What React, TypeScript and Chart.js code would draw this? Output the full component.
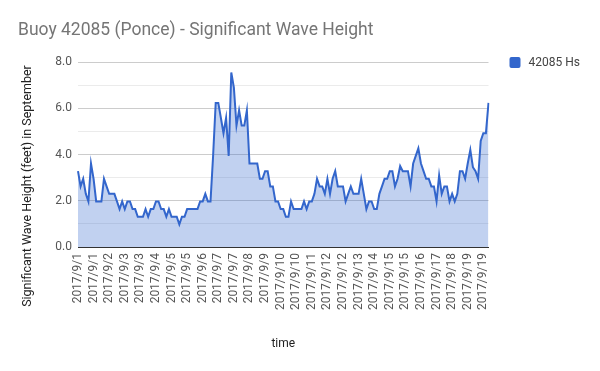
import React, { useEffect, useRef } from "react";
import { Chart, registerables } from "chart.js";

Chart.register(...registerables);

const chartTitle = "Buoy 42085 (Ponce) - Significant Wave Height";
const seriesName = "42085 Hs";
const yAxisTitle = "Significant Wave Height (feet) in September";
const xAxisTitle = "time";

const tickLabels = [
  "2017/9/1", "2017/9/1", "2017/9/2", "2017/9/3", "2017/9/3", "2017/9/4",
  "2017/9/5", "2017/9/5", "2017/9/6", "2017/9/7", "2017/9/7", "2017/9/8",
  "2017/9/9", "2017/9/10", "2017/9/10", "2017/9/11", "2017/9/12", "2017/9/12",
  "2017/9/13", "2017/9/14", "2017/9/15", "2017/9/15", "2017/9/16", "2017/9/17",
  "2017/9/18", "2017/9/19", "2017/9/19",
];

const pointsPerTick = 6;

const waveHeights = [
  3.28, 2.62, 2.95, 2.30, 1.97, 3.61, 2.95, 1.97, 1.97, 1.97,
  2.95, 2.62, 2.30, 2.30, 2.30, 1.97, 1.64, 1.97, 1.64, 1.97,
  1.97, 1.64, 1.64, 1.31, 1.31, 1.31, 1.64, 1.31, 1.64, 1.64,
  1.97, 1.97, 1.64, 1.64, 1.31, 1.64, 1.31, 1.31, 1.31, 0.98,
  1.31, 1.31, 1.64, 1.64, 1.64, 1.64, 1.64, 1.97, 1.97, 2.30,
  1.97, 1.97, 3.94, 6.23, 6.23, 5.58, 4.92, 5.58, 3.94, 7.55,
  6.89, 5.25, 5.91, 5.25, 5.25, 5.91, 3.61, 3.61, 3.61, 3.61,
  2.95, 2.95, 3.28, 3.28, 2.62, 2.62, 1.97, 1.97, 1.64, 1.64,
  1.31, 1.31, 1.97, 1.64, 1.64, 1.64, 1.64, 1.97, 1.64, 1.97,
  1.97, 2.30, 2.95, 2.62, 2.62, 2.30, 2.95, 2.30, 2.95, 3.28,
  2.62, 2.62, 2.62, 1.97, 2.30, 2.62, 2.30, 2.30, 2.30, 2.95,
  2.30, 1.64, 1.97, 1.97, 1.64, 1.64, 2.30, 2.62, 2.95, 2.95,
  3.28, 3.28, 2.62, 2.95, 3.50, 3.28, 3.28, 3.28, 2.62, 3.61,
  3.94, 4.27, 3.61, 3.28, 2.95, 2.95, 2.62, 2.62, 1.97, 3.10,
  2.30, 2.62, 2.62, 1.97, 2.30, 1.97, 2.30, 3.28, 3.28, 2.95,
  3.61, 4.20, 3.45, 3.28, 2.95, 4.59, 4.92, 4.92, 6.23,
];

const lineColor = "#3366cc";
const fillColor = "rgba(51,102,204,0.3)";
const fontFamily = "Roboto, 'Noto Sans', sans-serif";

const legendPlugin = {
  id: "sideLegend",
  afterDraw(chart: any) {
    const { ctx, chartArea } = chart;
    const x = chartArea.right + 21;
    const y = chartArea.top - 5;
    ctx.save();
    ctx.fillStyle = lineColor;
    ctx.beginPath();
    if ((ctx as any).roundRect) {
      (ctx as any).roundRect(x, y, 11, 11, 2);
    } else {
      ctx.rect(x, y, 11, 11);
    }
    ctx.fill();
    ctx.font = `12px ${fontFamily}`;
    ctx.fillStyle = "#444444";
    ctx.textBaseline = "middle";
    ctx.textAlign = "left";
    ctx.fillText(seriesName, x + 19, y + 6);
    ctx.restore();
  },
};

const yTitlePlugin = {
  id: "yTitle",
  afterDraw(chart: any) {
    const { ctx, chartArea } = chart;
    ctx.save();
    ctx.translate(28, chartArea.bottom - 61);
    ctx.rotate(-Math.PI / 2);
    ctx.font = `12.5px ${fontFamily}`;
    ctx.fillStyle = "#222222";
    ctx.textAlign = "center";
    ctx.textBaseline = "middle";
    ctx.fillText(yAxisTitle, 0, 0);
    ctx.restore();
  },
};

export default function App() {
  const canvasRef = useRef<HTMLCanvasElement | null>(null);

  useEffect(() => {
    document.body.style.margin = "0";
    const canvas = canvasRef.current;
    if (!canvas) return;
    const labels = waveHeights.map((_, i) =>
      i % pointsPerTick === 0 && tickLabels[i / pointsPerTick] !== undefined
        ? tickLabels[i / pointsPerTick]
        : ""
    );
    const chart = new Chart(canvas, {
      type: "line",
      data: {
        labels,
        datasets: [
          {
            label: seriesName,
            data: waveHeights,
            borderColor: lineColor,
            backgroundColor: fillColor,
            borderWidth: 2,
            pointRadius: 0,
            tension: 0,
            fill: "origin",
          },
        ],
      },
      options: {
        responsive: false,
        animation: false,
        devicePixelRatio: 1,
        layout: { padding: { left: 18, right: 111.5, top: 0, bottom: 0 } },
        plugins: {
          legend: { display: false },
          tooltip: { enabled: false },
          title: {
            display: true,
            text: chartTitle,
            align: "start",
            color: "#757575",
            font: { family: fontFamily, size: 17.5, weight: "normal" },
            padding: { top: 20.5, bottom: 20.5 },
          },
        },
        scales: {
          x: {
            grid: { display: false, drawTicks: false },
            border: { display: true, color: "#333333", width: 1 },
            ticks: {
              autoSkip: false,
              maxRotation: 90,
              minRotation: 90,
              padding: 6,
              color: "#555555",
              font: { family: fontFamily, size: 12 },
            },
            title: {
              display: true,
              text: xAxisTitle,
              color: "#222222",
              font: { family: fontFamily, size: 12 },
              padding: { top: 0, bottom: 20 },
            },
            afterFit(scale: any) {
              scale.height = 124;
            },
          },
          y: {
            min: 0,
            max: 8,
            border: { display: false },
            grid: {
              drawTicks: false,
              color: (c: any) => {
                const v = c.tick ? c.tick.value : 0;
                if (v === 0) return "#333333";
                return v % 2 === 0 ? "#cccccc" : "#ebebeb";
              },
            },
            ticks: {
              stepSize: 1,
              padding: 6,
              color: "#555555",
              font: { family: fontFamily, size: 12 },
              callback: (v: any) => (Number(v) % 2 === 0 ? Number(v).toFixed(1) : ""),
            },
            afterFit(scale: any) {
              scale.width = 60;
            },
          },
        },
      },
      plugins: [legendPlugin, yTitlePlugin],
    });
    return () => chart.destroy();
  }, []);

  return (
    <div style={{ width: 600, height: 371, position: "relative", background: "#ffffff" }}>
      <canvas ref={canvasRef} width={600} height={371} />
    </div>
  );
}
